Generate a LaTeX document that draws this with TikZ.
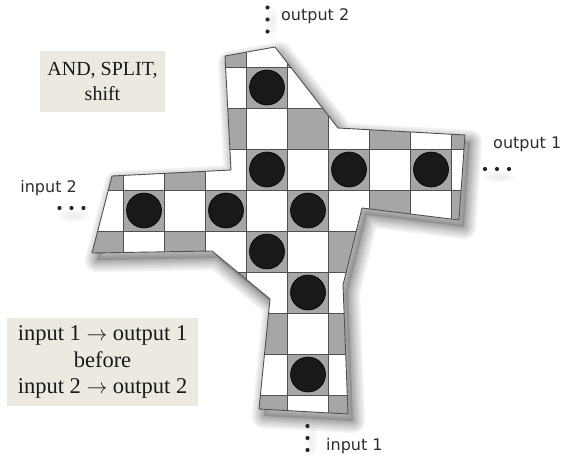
\documentclass[tikz,border=0pt]{standalone}
\usepackage{fontspec}
\setmainfont{Liberation Serif}
\newfontfamily\labelfont{DejaVu Sans}
\definecolor{cellgray}{RGB}{166,166,168}
\definecolor{gridline}{RGB}{80,80,80}
\definecolor{boxbg}{RGB}{236,234,224}
\definecolor{labelink}{RGB}{45,45,45}
\begin{document}
\begin{tikzpicture}[x=1pt,y=-1pt,
  labeltext/.style={font=\labelfont\fontsize{16}{18}\selectfont, text=labelink, inner sep=0},
  notebox/.style={fill=boxbg, align=center, inner sep=0, text=black!90},
  dotmark/.style={circle, fill=black!85, inner sep=0, minimum size=4.2pt},
  disc/.style={circle, fill=black!90, draw=black, line width=0.6pt, inner sep=0, minimum size=35pt}]
\useasboundingbox (0,0) rectangle (564,458);
\def\outline{(275,47) -- (338,128) -- (465,135) -- (459,220) -- (362,208) -- (343,285) -- (348,414) -- (259,409) -- (270,299) -- (212,251) -- (92,253) -- (112,176) -- (231,170) -- (225,56) -- cycle}
% blurred drop shadow
\begin{scope}[shift={(5,7)}]
  \foreach \w in {24,20,16,12,9,6,3} {
    \draw[line width=\w pt, black, opacity=0.055, line join=round] \outline;
  }
  \fill[black, opacity=0.15] \outline;
\end{scope}
% faint shadows beside the dots
\foreach \s in {16,11,6} {
  \fill[black, opacity=0.025] (499,177) ellipse ({\s pt} and {0.35*\s pt});
  \fill[black, opacity=0.025] (74,216) ellipse ({\s pt} and {0.35*\s pt});
  \fill[black, opacity=0.02] (272,22) ellipse ({0.35*\s pt} and {\s pt});
  \fill[black, opacity=0.02] (312,441) ellipse ({0.35*\s pt} and {\s pt});
}
% board
\fill[white] \outline;
\begin{scope}
  \clip \outline;
  \foreach \c in {-1,...,8} {
    \foreach \r in {0,...,9} {
      \pgfmathtruncatemacro\parity{mod(\c+\r+10,2)}
      \ifnum\parity=0
        \fill[cellgray] (123.5+41*\c,26+41*\r) rectangle ++(41,41);
      \fi
    }
  }
  \foreach \c in {-1,...,9} {
    \draw[gridline, line width=0.9pt] (123.5+41*\c,0) -- (123.5+41*\c,458);
  }
  \foreach \r in {0,...,10} {
    \draw[gridline, line width=0.9pt] (0,26+41*\r) -- (564,26+41*\r);
  }
\end{scope}
\draw[gridline, line width=0.9pt, line join=round] \outline;
% discs
\foreach \c/\r [count=\k] in {3/1,3/3,5/3,7/3,0/4,2/4,4/4,3/5,4/6,4/8} {
  \node[disc] (d\k) at (144+41*\c,46.5+41*\r) {};
}
% labels and dots
\node[labeltext, anchor=west] (out2) at (281,16) {output 2};
\node[dotmark] (o2a) at (267.5,7.5) {};
\node[dotmark] (o2b) at (267.5,19.5) {};
\node[dotmark] (o2c) at (267.5,31.5) {};
\node[labeltext, anchor=west] (out1) at (493,144) {output 1};
\node[dotmark] (o1a) at (485,169) {};
\node[dotmark] (o1b) at (497,169) {};
\node[dotmark] (o1c) at (509,169) {};
\node[labeltext, anchor=east] (in2) at (77,188) {input 2};
\node[dotmark] (i2a) at (59.5,208) {};
\node[dotmark] (i2b) at (71.5,208) {};
\node[dotmark] (i2c) at (83.5,208) {};
\node[labeltext, anchor=west] (in1) at (326,446) {input 1};
\node[dotmark] (i1a) at (307.5,426) {};
\node[dotmark] (i1b) at (307.5,438) {};
\node[dotmark] (i1c) at (307.5,450) {};
% note boxes
\node[notebox, font=\fontsize{20}{25}\selectfont, minimum width=125pt, minimum height=61pt] (note1) at (102.5,81.5) {AND, SPLIT,\\shift};
\node[notebox, font=\fontsize{22.5}{26.5}\selectfont, minimum width=191pt, minimum height=88pt] (note2) at (102.5,362) {input 1 $\rightarrow$ output 1\\before\\input 2 $\rightarrow$ output 2};
\end{tikzpicture}
\end{document}
